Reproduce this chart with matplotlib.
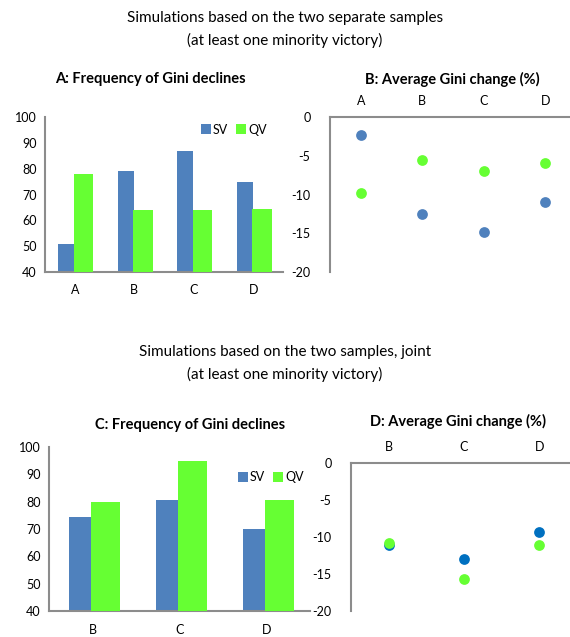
import numpy as np
import matplotlib.pyplot as plt

plt.rcParams['font.family'] = ['Lato', 'DejaVu Sans']
plt.rcParams['axes.unicode_minus'] = False

# top block: separate samples
cats_sep = ['A', 'B', 'C', 'D']
freq_sv_sep = [51, 79, 87, 75]
freq_qv_sep = [78, 64, 64, 64.5]
chg_sv_sep = [-2.3, -12.5, -14.8, -11.0]
chg_qv_sep = [-9.8, -5.6, -7.0, -5.9]

# bottom block: joint sample
cats_joint = ['B', 'C', 'D']
freq_sv_joint = [74.5, 80.5, 70]
freq_qv_joint = [80, 95, 80.5]
chg_sv_joint = [-11.1, -13.0, -9.3]
chg_qv_joint = [-10.8, -15.7, -11.1]

blue = '#4F81BD'
blue2 = '#0070C0'
green = '#66FF33'
grey = '#8C8C8C'

fig = plt.figure(figsize=(5.7, 6.37), dpi=100)
W, H = 570, 637


def box(x0, y0, x1, y1):
    # pixel box (top-left origin) -> figure fraction
    return [x0 / W, 1 - y1 / H, (x1 - x0) / W, (y1 - y0) / H]


def px_text(x, y, s, **kw):
    fig.text(x / W, 1 - y / H, s, ha='center', va='center', **kw)


def style(ax):
    for s in ['top', 'right']:
        ax.spines[s].set_visible(False)
    for s in ['left', 'bottom']:
        ax.spines[s].set_color(grey)
        ax.spines[s].set_linewidth(1.5)
    ax.tick_params(length=0, labelsize=9, pad=6)


def bars(ax, cats, sv, qv, leg_anchor):
    x = np.arange(len(cats))
    ax.bar(x - 0.14, sv, width=0.27, color=blue, label='SV', zorder=2)
    ax.bar(x + 0.15, qv, width=0.33, color=green, label='QV', zorder=3)
    ax.set_xlim(-0.5, len(cats) - 0.5)
    ax.set_ylim(40, 100)
    ax.set_yticks(range(40, 101, 10))
    ax.set_xticks(x)
    ax.set_xticklabels(cats)
    style(ax)
    ax.tick_params(axis='x', pad=9)
    ax.legend(loc='upper right', bbox_to_anchor=leg_anchor, ncol=2, frameon=False,
              fontsize=9, handlelength=0.8, handleheight=0.8, handletextpad=0.2,
              columnspacing=0.6)


def dots(ax, cats, sv, qv, sv_color):
    x = np.arange(len(cats))
    ax.scatter(x, sv, s=60, color=sv_color, zorder=2, linewidths=0)
    ax.scatter(x, qv, s=60, color=green, zorder=3, linewidths=0)
    ax.set_xlim(-0.5, len(cats) - 0.5)
    ax.set_ylim(-20, 0)
    ax.set_yticks(range(-20, 1, 5))
    ax.set_xticks(x)
    ax.set_xticklabels(cats)
    ax.xaxis.tick_top()
    style(ax)
    ax.spines['bottom'].set_visible(False)
    ax.spines['top'].set_visible(True)
    ax.spines['top'].set_color(grey)
    ax.spines['top'].set_linewidth(1.5)
    ax.tick_params(axis='x', pad=7.5)
    ax.tick_params(axis='y', pad=14)


px_text(285, 18, 'Simulations based on the two separate samples', fontsize=11)
px_text(285, 40, '(at least one minority victory)', fontsize=11)
px_text(285, 352, 'Simulations based on the two samples, joint', fontsize=11)
px_text(285, 374, '(at least one minority victory)', fontsize=11)

axA = fig.add_axes(box(45, 117, 283, 272))
bars(axA, cats_sep, freq_sv_sep, freq_qv_sep, (0.98, 1.03))
px_text(150, 79, 'A: Frequency of Gini declines', fontsize=10.5, fontweight='bold')

axB = fig.add_axes(box(330, 117, 576, 272))
dots(axB, cats_sep, chg_sv_sep, chg_qv_sep, blue)
px_text(452, 79, 'B: Average Gini change (%)', fontsize=10.5, fontweight='bold')

axC = fig.add_axes(box(49, 447, 310, 611))
bars(axC, cats_joint, freq_sv_joint, freq_qv_joint, (1.02, 0.92))
px_text(190, 425, 'C: Frequency of Gini declines', fontsize=10.5, fontweight='bold')

axD = fig.add_axes(box(351, 463, 577, 611))
dots(axD, cats_joint, chg_sv_joint, chg_qv_joint, blue2)
px_text(458, 421, 'D: Average Gini change (%)', fontsize=10.5, fontweight='bold')

fig.savefig('out.png', dpi=100)
